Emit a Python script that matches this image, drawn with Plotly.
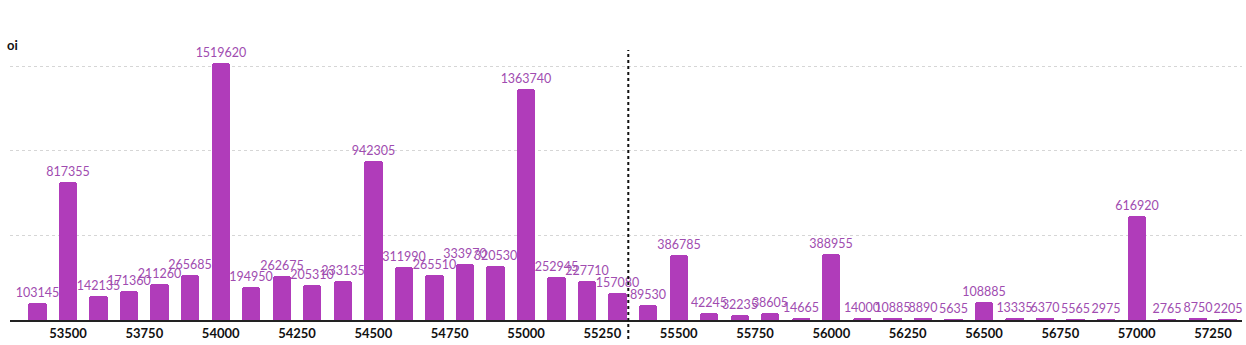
import plotly.graph_objects as go

strikes = list(range(53400, 57301, 100))
oi = [103145, 817355, 142135, 171360, 211260, 265685, 1519620, 194950, 262675, 205310,
      233135, 942305, 311990, 265510, 333970, 320530, 1363740, 252945, 227710, 157080,
      89530, 386785, 42245, 32235, 38605, 14665, 388955, 14000, 10885, 8890,
      5635, 108885, 13335, 6370, 5565, 2975, 616920, 2765, 8750, 2205]
tick_vals = list(range(53500, 57251, 250))
spot = 55335

bar_color = "#b03cba"
text_color = "#a04cb0"

fig = go.Figure(go.Bar(
    x=strikes, y=oi, width=60,
    marker=dict(color=bar_color, line=dict(width=0), cornerradius=3),
    text=[str(v) for v in oi], textposition="outside",
    textfont=dict(family="Lato", size=12.5, color=text_color),
    constraintext="none", cliponaxis=False,
))

fig.add_shape(type="line", xref="x", yref="paper", x0=spot, x1=spot, y0=-0.07, y1=1,
              line=dict(color="#111", width=2, dash="dot"))

fig.add_annotation(text="<b>oi</b>", xref="paper", yref="paper", x=0, y=1,
                   xanchor="left", yanchor="bottom", xshift=-5, yshift=-5, showarrow=False,
                   font=dict(family="Lato", size=13, color="#111"))

fig.update_layout(
    width=1246, height=345,
    margin=dict(l=10, r=4, t=50, b=23),
    plot_bgcolor="white", paper_bgcolor="white",
    showlegend=False, bargap=0,
    xaxis=dict(range=[53310, 57345], tickvals=tick_vals, ticktext=[str(v) for v in tick_vals],
               showgrid=False, showline=True, linecolor="#222", linewidth=2, ticks="",
               tickfont=dict(family="Lato", size=13, color="#111", weight="bold"), zeroline=False),
    yaxis=dict(range=[0, 1596000], tickvals=[500000, 1000000, 1500000], showticklabels=False,
               showgrid=True, gridcolor="#d6d6d6", griddash="dot", gridwidth=1,
               zeroline=False, showline=False, ticks=""),
)

fig.write_html("out.html")
